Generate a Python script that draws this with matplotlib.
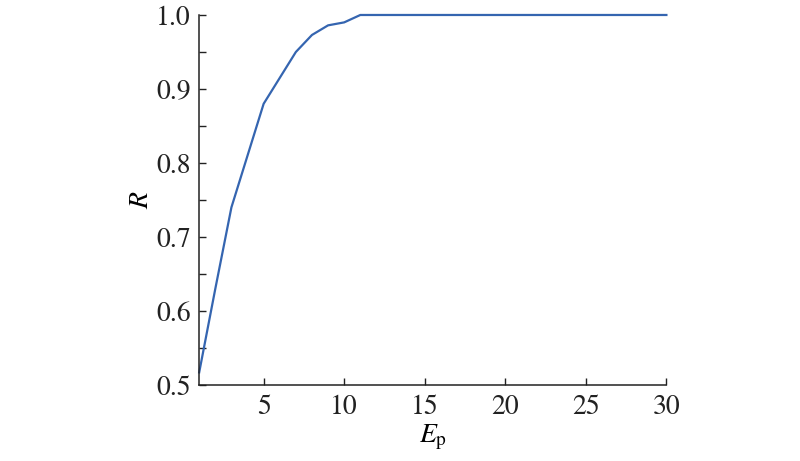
import numpy as np
import matplotlib.pyplot as plt
from matplotlib.ticker import MultipleLocator

# values
ep = [1, 2, 3, 4, 5, 6, 7, 8, 9, 10, 11, 12, 13, 14, 15, 16, 17, 18, 19, 20,
      21, 22, 23, 24, 25, 26, 27, 28, 29, 30]
r_vals = [0.517, 0.63, 0.74, 0.81, 0.88, 0.915, 0.95, 0.973, 0.986, 0.99, 1.0,
          1.0, 1.0, 1.0, 1.0, 1.0, 1.0, 1.0, 1.0, 1.0, 1.0, 1.0, 1.0, 1.0, 1.0,
          1.0, 1.0, 1.0, 1.0, 1.0]
x_ticks = [5, 10, 15, 20, 25, 30]

plt.rcParams['font.family'] = 'STIXGeneral'
plt.rcParams['mathtext.fontset'] = 'stix'

fig = plt.figure(figsize=(8, 4.61), dpi=100)
ax = fig.add_axes([0.249, 0.165, 0.584, 0.8025])

ax.plot(ep, r_vals, color='#3565b0', linewidth=1.6, clip_on=False)

ax.set_xlim(1, 30)
ax.set_ylim(0.5, 1.0)
ax.set_xticks(x_ticks)
ax.yaxis.set_major_locator(MultipleLocator(0.1))
ax.yaxis.set_minor_locator(MultipleLocator(0.05))
ax.set_yticklabels([f'{v:.1f}' for v in ax.get_yticks()])

for side in ['top', 'right']:
    ax.spines[side].set_visible(False)
for side in ['left', 'bottom']:
    ax.spines[side].set_linewidth(1.1)
    ax.spines[side].set_color('#222222')

ax.tick_params(which='both', direction='in', labelsize=20, width=1.0, colors='#222222')
ax.tick_params(which='major', length=5)
ax.tick_params(which='minor', length=5)
ax.tick_params(axis='y', pad=6)
ax.tick_params(axis='x', pad=7)

ax.set_xlabel(r'$E_{\mathrm{p}}$', fontsize=20, labelpad=2)
ax.set_ylabel(r'$R$', fontsize=20, labelpad=1.5)

fig.savefig('out.png', dpi=100)
plt.close(fig)
